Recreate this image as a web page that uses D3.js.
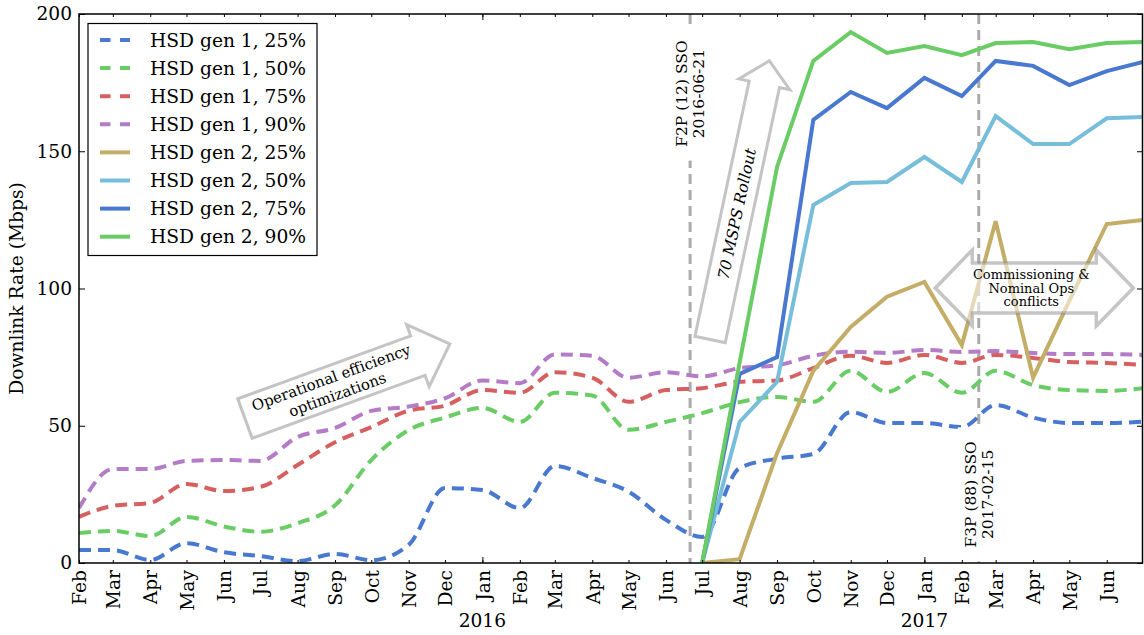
<!DOCTYPE html>
<html><head><meta charset="utf-8">
<script src="https://cdn.jsdelivr.net/npm/d3@7"></script>
<style>
body{margin:0;background:#fff;}
text{font-family:"DejaVu Serif",serif;fill:#000;}
</style>
</head><body>
<svg id="chart" width="1144" height="635"></svg>
<script>
// ---------- data ----------
const months = ["2015-02-01","2015-03-01","2015-04-01","2015-05-01","2015-06-01","2015-07-01","2015-08-01","2015-09-01","2015-10-01","2015-11-01","2015-12-01",
"2016-01-01","2016-02-01","2016-03-01","2016-04-01","2016-05-01","2016-06-01","2016-07-01","2016-08-01","2016-09-01","2016-10-01","2016-11-01","2016-12-01",
"2017-01-01","2017-02-01","2017-03-01","2017-04-01","2017-05-01","2017-06-01","2017-07-01"];

const gen1_25 = [4.7,4.7,1.1,7.2,3.9,2.5,0.7,3.3,1.0,6.6,27.3,26.6,20,35.3,31,26,15.7,9.5,34.6,38,39.7,55,51,51,49.5,57.5,53,51,51,51.5];
const gen1_50 = [10.9,11.7,9.8,16.8,13.3,11.4,14.5,21,37.5,48.4,53,56.5,51.4,62,61,48.5,51.4,54.6,58.6,60.5,58.7,70,62.3,69.2,62,70,64.8,63,62.7,63.7];
const gen1_75 = [16.8,20.8,21.9,28.8,26.2,27.7,35.7,44,49.5,55.5,57.3,63,62,69.5,67.5,58.7,63,63.7,66,66.5,71,75.5,72.9,75.8,72.9,75.8,74.7,73.2,72.9,72.1];
const gen1_90 = [20,34.2,34.2,37.2,37.5,37.2,45.9,49.2,55.4,57,60,66.5,65.5,76,75.5,67.5,69.5,68,71,72,75.5,77,76.5,77.6,76.9,77.2,76.5,76.1,76.1,75.8];

const gen2Months = months.slice(17); // Jul 2016 onwards
const gen2_25 = [0,1.4,40,70,86,97,102.4,79.4,124.5,67.5,95.5,123.5,125];
const gen2_50 = [0,51.4,66,130.4,138.4,138.8,147.9,138.8,162.8,152.6,152.6,162,162.5];
const gen2_75 = [0,68.9,75,161.4,171.6,165.7,176.7,170.1,182.9,181.1,174.1,179.2,182.5];
const gen2_90 = [0,73,144.3,182.9,193.4,185.8,188.3,185,189.4,189.8,187.2,189.4,189.8];

const seriesNames = ["HSD gen 1, 25%","HSD gen 1, 50%","HSD gen 1, 75%","HSD gen 1, 90%",
                     "HSD gen 2, 25%","HSD gen 2, 50%","HSD gen 2, 75%","HSD gen 2, 90%"];
const yTicks = [0,50,100,150,200];
const monthTickLabels = months.slice(0, 29); // Feb 2015 .. Jun 2017 labelled
const yearLabels = ["2016","2017"];

const events = [
  {date:"2016-06-21", lines:["F2P (12) SSO","2016-06-21"], labelY:171},
  {date:"2017-02-15", lines:["F3P (88) SSO","2017-02-15"], labelY:25}
];
const arrowNotes = [
  {date:"2015-08-29", value:64.1, lines:["Operational efficiency","optimizations"]},
  {date:"2016-07-30", value:127.9, lines:["70 MSPS Rollout"]},
  {date:"2017-04-02", value:100.2, lines:["Commissioning &","Nominal Ops","conflicts"]}
];

// ---------- setup ----------
const parse = d3.timeParse("%Y-%m-%d");
const W = 1144, H = 635;
const m = {left:79, right:1, top:14, bottom:72};
const svg = d3.select("#chart");

const x = d3.scaleTime().domain([parse("2015-02-01"), parse("2017-07-01")]).range([m.left, W - m.right]);
const y = d3.scaleLinear().domain([0,200]).range([H - m.bottom, m.top]);

const colors = ["#4878CF","#6ACC65","#D65F5F","#B47CC7","#C4AD66","#77BEDB","#4878CF","#6ACC65"];
const gen1 = [gen1_25,gen1_50,gen1_75,gen1_90];
const gen2 = [gen2_25,gen2_50,gen2_75,gen2_90];

svg.append("clipPath").attr("id","clip").append("rect")
  .attr("x", m.left).attr("y", m.top).attr("width", W-m.left-m.right).attr("height", H-m.top-m.bottom);

// ---------- vertical event lines ----------
const evG = svg.append("g");
events.forEach(e => {
  evG.append("line")
    .attr("x1", x(parse(e.date))).attr("x2", x(parse(e.date)))
    .attr("y1", y(200)).attr("y2", y(0))
    .attr("stroke","#aaaaaa").attr("stroke-width",3).attr("stroke-dasharray","10,6");
});

// ---------- lines ----------
const plot = svg.append("g").attr("clip-path","url(#clip)");
const lineSmooth = d3.line().curve(d3.curveMonotoneX).x((d,i)=>x(parse(months[i]))).y(d=>y(d));
const lineStraight = d3.line().x((d,i)=>x(parse(gen2Months[i]))).y(d=>y(d));

gen1.forEach((s,k) => {
  plot.append("path").datum(s).attr("d", lineSmooth)
    .attr("fill","none").attr("stroke", colors[k]).attr("stroke-width",4)
    .attr("stroke-dasharray","12,7");
});
gen2.forEach((s,k) => {
  plot.append("path").datum(s).attr("d", lineStraight)
    .attr("fill","none").attr("stroke", colors[k+4]).attr("stroke-width",4)
    .attr("stroke-linejoin","miter");
});

// ---------- event labels ----------
events.forEach(e => {
  const g = svg.append("g")
    .attr("transform", `translate(${x(parse(e.date))},${y(e.labelY)}) rotate(-90)`);
  g.append("rect").attr("x",-67).attr("y",-21).attr("width",134).attr("height",42).attr("fill","#fff");
  e.lines.forEach((t,i) => {
    g.append("text").attr("x",0).attr("y", (i-0.5)*17).attr("dy","0.35em")
      .attr("text-anchor","middle").style("font-size","15.5px").text(t);
  });
});

// ---------- arrow annotations ----------
function rarrow(L,h,e,Hd){ return [[-L,-h],[L,-h],[L,-h-e],[L+Hd,0],[L,h+e],[L,h],[-L,h]]; }
function darrow(L,h,e,Hd){ return [[-L,-h],[L,-h],[L,-h-e],[L+Hd,0],[L,h+e],[L,h],[-L,h],[-L,h+e],[-L-Hd,0],[-L,-h-e]]; }
const poly = d3.line().curve(d3.curveLinearClosed);

// 1: Operational efficiency
(function(){
  const a = arrowNotes[0];
  const g = svg.append("g").attr("transform",`translate(${x(parse(a.date))},${y(a.value)}) rotate(-20)`);
  g.append("path").attr("d", poly(rarrow(92,21,12,34)))
    .attr("fill","#fff").attr("stroke","#c4c4c4").attr("stroke-width",3).attr("stroke-linejoin","miter");
  a.lines.forEach((t,i)=>{
    g.append("text").attr("x",3).attr("y",(i-0.5)*18).attr("dy","0.35em").attr("text-anchor","middle")
      .style("font-size","15px").text(t);
  });
})();
// 2: 70 MSPS Rollout
(function(){
  const a = arrowNotes[1];
  const g = svg.append("g").attr("transform",`translate(${x(parse(a.date))},${y(a.value)}) rotate(-78)`);
  g.append("path").attr("d", poly(rarrow(130.5,15.5,10.5,24)))
    .attr("fill","#fff").attr("stroke","#c4c4c4").attr("stroke-width",3).attr("stroke-linejoin","miter");
  g.append("text").attr("x",-2).attr("y",0).attr("dy","0.35em").attr("text-anchor","middle")
    .style("font-size","15.5px").style("font-style","italic").text(a.lines[0]);
})();
// 3: Commissioning
(function(){
  const a = arrowNotes[2];
  const g = svg.append("g").attr("transform",`translate(${x(parse(a.date))},${y(a.value)})`);
  g.append("path").attr("d", poly(darrow(62,25,13,37)))
    .attr("fill","#fff").attr("fill-opacity",0.55)
    .attr("stroke","#8c8c8c").attr("stroke-opacity",0.5).attr("stroke-width",3.5).attr("stroke-linejoin","miter");
  a.lines.forEach((t,i)=>{
    g.append("text").attr("x",-3).attr("y",(i-1)*14).attr("dy","0.35em").attr("text-anchor","middle")
      .style("font-size","13px").text(t);
  });
})();

// ---------- axes ----------
const fs = "18.67px";
const monthTicks = d3.timeMonth.every(1);
const xb = svg.append("g").attr("transform",`translate(0,${y(0)})`)
  .call(d3.axisBottom(x).tickValues(monthTickLabels.map(parse)).tickSize(-3).tickFormat(d3.timeFormat("%b")));
xb.select(".domain").remove();
xb.selectAll(".tick line").attr("stroke","#000").attr("stroke-width",1);
xb.selectAll(".tick text")
  .attr("transform","rotate(-90)").attr("x",-7).attr("y",0).attr("dy","0.36em")
  .style("text-anchor","end").style("font-size",fs).style("font-family","DejaVu Serif");
// major (year) ticks bottom
const xbMaj = svg.append("g").attr("transform",`translate(0,${y(0)})`)
  .call(d3.axisBottom(x).ticks(d3.timeYear.every(1)).tickSize(-6).tickFormat(""));
xbMaj.select(".domain").remove();
// top ticks
const xt = svg.append("g").attr("transform",`translate(0,${y(200)})`)
  .call(d3.axisTop(x).tickValues(monthTickLabels.map(parse)).tickSize(-3).tickFormat(""));
xt.select(".domain").remove();
const xtMaj = svg.append("g").attr("transform",`translate(0,${y(200)})`)
  .call(d3.axisTop(x).ticks(d3.timeYear.every(1)).tickSize(-6).tickFormat(""));
xtMaj.select(".domain").remove();

// year labels
yearLabels.forEach(yr => {
  svg.append("text").attr("x", x(parse(yr+"-01-01"))).attr("y", 627)
    .attr("text-anchor","middle").style("font-size",fs).text(yr);
});

const yl = svg.append("g").attr("transform",`translate(${m.left},0)`)
  .call(d3.axisLeft(y).tickValues(yTicks).tickSize(-6).tickPadding(7).tickFormat(d3.format("d")));
yl.select(".domain").remove();
yl.selectAll(".tick text").style("font-size",fs).style("font-family","DejaVu Serif");
const yr = svg.append("g").attr("transform",`translate(${W-m.right},0)`)
  .call(d3.axisRight(y).tickValues(yTicks).tickSize(-6).tickFormat(""));
yr.select(".domain").remove();

svg.append("text").attr("transform",`translate(23,${(y(0)+y(200))/2}) rotate(-90)`)
  .attr("text-anchor","middle").style("font-size",fs).text("Downlink Rate (Mbps)");

// frame
svg.append("rect").attr("x",m.left).attr("y",m.top).attr("width",W-m.left-m.right-0.5).attr("height",H-m.top-m.bottom)
  .attr("fill","none").attr("stroke","#000").attr("stroke-width",1.5);

// ---------- legend ----------
const lg = svg.append("g");
lg.append("rect").attr("x",88).attr("y",23.5).attr("width",229).attr("height",232)
  .attr("fill","#fff").attr("stroke","#000").attr("stroke-width",1.2);
seriesNames.forEach((n,i)=>{
  const yy = 40 + i*28.1;
  lg.append("line").attr("x1",100).attr("x2",130).attr("y1",yy).attr("y2",yy)
    .attr("stroke",colors[i]).attr("stroke-width",4)
    .attr("stroke-dasharray", i<4 ? "10.5,9.5" : null);
  lg.append("text").attr("x",150).attr("y",yy).attr("dy","0.35em").style("font-size",fs).text(n);
});
</script>
</body></html>
